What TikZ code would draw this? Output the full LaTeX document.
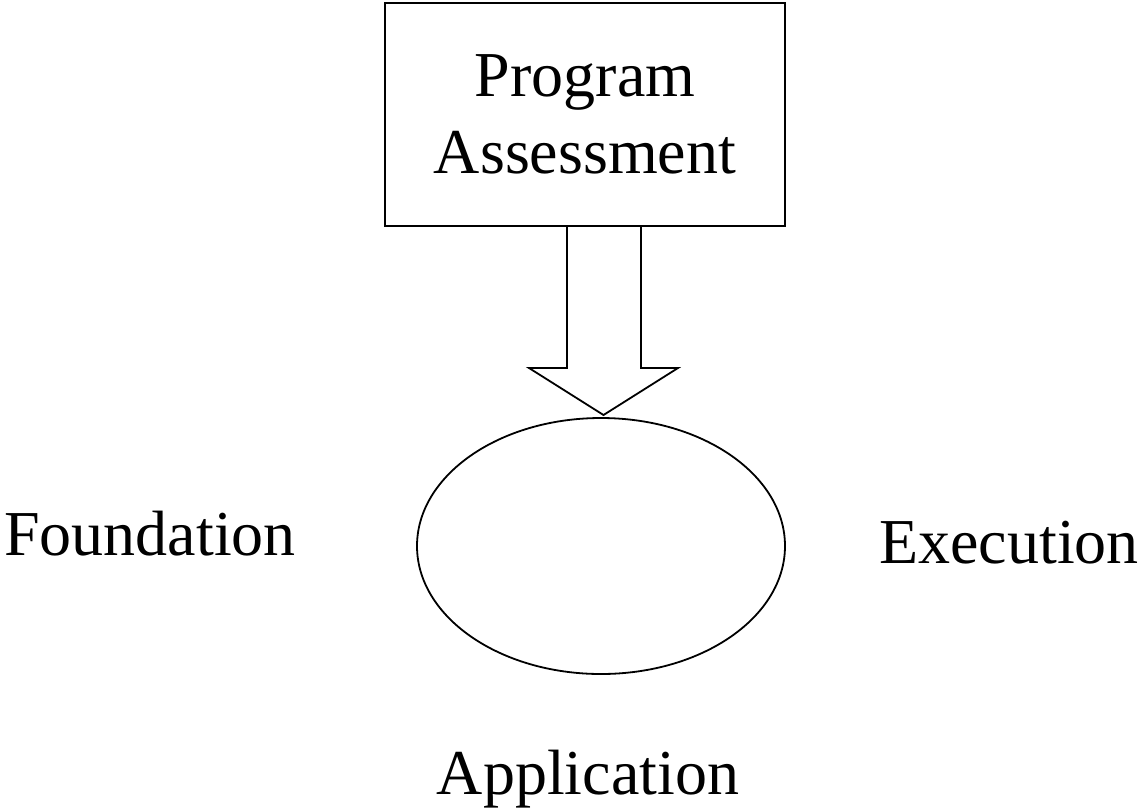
\documentclass[tikz,border=0pt]{standalone}
\usepackage{fontspec}
\setmainfont{Liberation Serif}
\usetikzlibrary{shapes.geometric}
\begin{document}
\begin{tikzpicture}[x=1pt,y=-1pt,
  line width=1.8pt,
  lbl/.style={font=\fontsize{64}{77}\selectfont, inner sep=0pt, anchor=base},
  box/.style={draw, rectangle, inner sep=0pt, minimum width=400pt, minimum height=223pt,
    align=center, font=\fontsize{64}{77}\selectfont},
  oval/.style={draw, ellipse, inner sep=0pt, minimum width=368pt, minimum height=256pt}]
\useasboundingbox (0,0) rectangle (1140,807);
\node[box] (pa) at (585,114.5) {\raisebox{-3pt}{Program}\\\raisebox{-3pt}{Assessment}};
\node[oval] (ov) at (601,546) {};
\draw[line join=miter] (pa.south -| 567,0) -- (567,368) -- (529,368) -- (603.5,415)
  -- (678,368) -- (641,368) -- (pa.south -| 641,0);
\node[lbl] (fd) at (150,555) {Foundation};
\node[lbl] (ex) at (1009,563) {Execution};
\node[lbl] (ap) at (588,794) {Application};
\end{tikzpicture}
\end{document}
